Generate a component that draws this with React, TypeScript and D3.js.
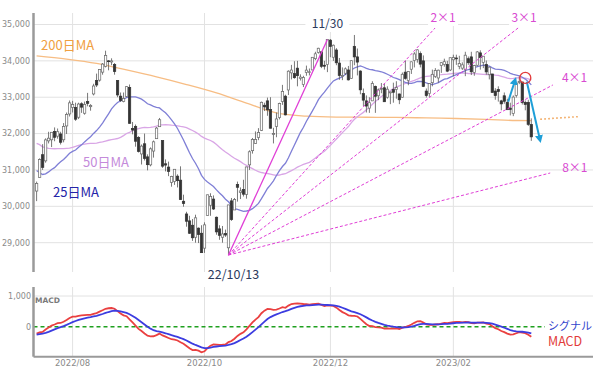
import React from 'react';
import * as d3 from 'd3';

// ---- trading days (DJIA) ----
const tradingDays: [string, number[]][] = [
  ['2022/07', [14, 15, 18, 19, 20, 21, 22, 25, 26, 27, 28, 29]],
  ['2022/08', [1, 2, 3, 4, 5, 8, 9, 10, 11, 12, 15, 16, 17, 18, 19, 22, 23, 24, 25, 26, 29, 30, 31]],
  ['2022/09', [1, 2, 6, 7, 8, 9, 12, 13, 14, 15, 16, 19, 20, 21, 22, 23, 26, 27, 28, 29, 30]],
  ['2022/10', [3, 4, 5, 6, 7, 10, 11, 12, 13, 14, 17, 18, 19, 20, 21, 24, 25, 26, 27, 28, 31]],
  ['2022/11', [1, 2, 3, 4, 7, 8, 9, 10, 11, 14, 15, 16, 17, 18, 21, 22, 23, 25, 28, 29, 30]],
  ['2022/12', [1, 2, 5, 6, 7, 8, 9, 12, 13, 14, 15, 16, 19, 20, 21, 22, 23, 27, 28, 29, 30]],
  ['2023/01', [3, 4, 5, 6, 9, 10, 11, 12, 13, 17, 18, 19, 20, 23, 24, 25, 26, 27, 30, 31]],
  ['2023/02', [1, 2, 3, 6, 7, 8, 9, 10, 13, 14, 15, 16, 17, 21, 22, 23, 24, 27, 28]],
  ['2023/03', [1, 2, 3, 6, 7, 8, 9, 10]],
];

const open = [
  30420, 30790, 31420, 31250, 31800, 31830, 32060, 31930, 31990, 31830, 32210, 32540,
  32720, 32720, 32450, 32820, 32560, 32880, 32740, 33090, 33460, 33470, 33690, 33850, 34000, 33970, 33900, 33460, 33030, 32880, 33020, 33270, 32140, 32200, 31890,
  31440, 31720, 31360, 31140, 31520, 31860, 32190, 31810, 31170, 31080, 30660, 30680, 30830, 30720, 30140, 29790, 29600, 29480, 29150, 29400, 29260,
  28850, 29750, 30030, 30200, 29700, 29380, 29150, 29250, 28860, 30150, 29900, 30600, 30380, 30460, 30330, 31140, 31530, 31730, 31890, 32090, 32780,
  32900, 32660, 32000, 32200, 32440, 32880, 33030, 33200, 33670, 33650, 33800, 33520, 33350, 33680, 33680, 33750, 34060, 34230, 34250, 33880, 33900,
  34570, 34100, 34300, 33940, 33570, 33660, 33750, 33520, 34400, 34110, 33720, 33100, 32900, 32700, 32900, 33300, 33040, 33240, 33260, 33000, 33120,
  33210, 33210, 33090, 33000, 33690, 33460, 33770, 34010, 34040, 34200, 34000, 33170, 33100, 33400, 33570, 33530, 33870, 33900, 33900, 33750,
  34030, 34080, 33850, 33800, 33760, 34060, 34110, 33680, 33880, 34220, 33960, 33900, 33620, 33640, 33170, 33210, 32900, 33040, 32860,
  32700, 32550, 33050, 33430, 33420, 32860, 32860, 32250,
];
const high = [
  30680, 31320, 31710, 31870, 32050, 32040, 32170, 32140, 32050, 32290, 32580, 32910,
  32900, 32850, 32850, 32860, 32880, 33120, 32810, 33370, 33650, 33770, 33940, 34280, 34020, 34070, 33940, 33470, 33130, 33130, 33300, 33350, 32320, 32250, 31930,
  31700, 32000, 31430, 31620, 31810, 32180, 32430, 31810, 31290, 31230, 30840, 31020, 30880, 31100, 30320, 29850, 29740, 29650, 29770, 29420, 29480,
  29560, 30320, 30360, 30300, 29720, 29480, 29460, 29360, 30040, 30230, 30230, 30680, 30520, 30730, 31090, 31540, 31880, 32060, 32150, 32880, 32850,
  32990, 33000, 32160, 32580, 32850, 33340, 33070, 33740, 33890, 33990, 34000, 33630, 33590, 33870, 33790, 34100, 34250, 34360, 34250, 34000, 34590,
  34600, 34450, 34350, 34080, 33820, 33820, 33860, 34010, 34712, 34340, 33740, 33240, 33050, 33000, 33440, 33320, 33240, 33390, 33380, 33300, 33150,
  33400, 33440, 33100, 33680, 34010, 33710, 33980, 34240, 34320, 34260, 34150, 33240, 33380, 33760, 33800, 33760, 33960, 34060, 34000, 34090,
  34170, 34170, 34140, 33960, 34250, 34120, 34250, 33890, 34270, 34290, 34130, 34010, 33840, 33640, 33250, 33300, 32930, 33130, 32960,
  32850, 33050, 33400, 33570, 33420, 32910, 32930, 32420,
];
const low = [
  30143, 30790, 31000, 31200, 31730, 31630, 31790, 31860, 31700, 31760, 31990, 32470,
  32580, 32350, 32400, 32570, 32520, 32750, 32630, 33050, 33280, 33430, 33620, 33820, 33740, 33880, 33620, 33000, 32870, 32860, 33000, 32270, 31980, 31640, 31480,
  31150, 31260, 30990, 31100, 31340, 31860, 32190, 31060, 30960, 30830, 30540, 30590, 30520, 30180, 29990, 29440, 29240, 29050, 29000, 28990, 28720,
  28720, 29750, 29740, 29900, 29220, 29080, 29000, 29160, 28660, 29600, 29900, 30130, 30200, 30270, 30210, 31000, 31450, 31720, 31820, 32070, 32620,
  32490, 32140, 31730, 31900, 32390, 32790, 32500, 33060, 33490, 33510, 33300, 33460, 33280, 33590, 33600, 33750, 34020, 34200, 33800, 33760, 33690,
  34100, 34000, 33880, 33480, 33470, 33610, 33460, 33510, 33880, 33600, 33080, 32760, 32580, 32570, 32900, 32570, 32920, 33110, 32870, 32960, 32810,
  32850, 32960, 32810, 32990, 33480, 33330, 33640, 33820, 33950, 33820, 33280, 32990, 33010, 33300, 33530, 33400, 33670, 33840, 33690, 33720,
  33580, 33890, 33770, 33750, 33580, 33890, 33610, 33590, 33850, 33760, 33800, 33620, 33490, 33130, 32930, 32880, 32640, 32820, 32650,
  32500, 32480, 32990, 33360, 32800, 32640, 32210, 31800,
];
const close = [
  30630, 31288, 31072, 31827, 31874, 32036, 31899, 32052, 31762, 32198, 32529, 32845,
  32798, 32396, 32813, 32727, 32803, 32832, 32774, 33309, 33336, 33761, 33912, 34152, 33980, 33999, 33706, 33063, 32909, 32969, 33291, 32283, 32098, 31790, 31510,
  31656, 31318, 31145, 31581, 31774, 32152, 32381, 31105, 31135, 30961, 30822, 31019, 30706, 30184, 30077, 29590, 29260, 29135, 29684, 29226, 28726,
  29490, 30317, 30274, 29927, 29297, 29203, 29240, 29211, 30039, 29635, 30186, 30524, 30424, 30334, 31083, 31500, 31837, 31839, 32034, 32861, 32733,
  32653, 32148, 32001, 32403, 32827, 33161, 32514, 33716, 33748, 33537, 33593, 33554, 33546, 33746, 33700, 34098, 34194, 34347, 33850, 33853, 34590,
  34395, 34430, 33947, 33597, 33598, 33781, 33477, 34005, 34109, 33966, 33203, 32920, 32757, 32850, 33377, 33027, 33204, 33241, 32876, 33221, 33147,
  33136, 33270, 32930, 33631, 33518, 33704, 33974, 34190, 34303, 33910, 33297, 33045, 33375, 33630, 33734, 33744, 33950, 33978, 33717, 34086,
  34093, 34054, 33926, 33891, 34156, 33949, 33699, 33869, 34246, 34089, 34128, 33697, 33827, 33130, 33045, 33154, 32817, 32889, 32657,
  32662, 33004, 33391, 33431, 32856, 32798, 32254, 31910,
];
// closes before the chart window (2022/05/03 - 2022/07/13), used for MA / MACD warm-up
const priorClose = [
  33128, 34061, 32998, 32899, 32246, 32160, 31834, 31730, 32197, 32223, 32655, 31490, 31253, 31262, 31880, 31929, 32120, 32637, 33213, 32990,
  32813, 33248, 32899, 32916, 33180, 32910, 32272, 31393, 30516, 30365, 30668, 29927, 29888, 30530, 30483, 30677, 31500, 31438, 30947, 31029, 30775,
  31097, 30968, 31037, 31385, 31338, 31174, 30982, 30772,
];
// 200-day MA: [day index, value]
const ma200Points: [number, number][] = [
  [0, 34140], [10, 34050], [20, 33930], [30, 33750], [40, 33560], [50, 33350], [60, 33120], [70, 32840],
  [80, 32570], [90, 32480], [100, 32455], [110, 32450], [120, 32445], [130, 32430], [140, 32415], [150, 32390], [160, 32360], [165, 32355],
];
const ma200Projection: [number, number][] = [[168, 32395], [180.5, 32465]];

const yTicks = [29000, 30000, 31000, 32000, 33000, 34000, 35000];
const dateTickMonths = ['2022/08', '2022/10', '2022/12', '2023/02'];

// Gann fan from 22/10/13 low
const fanPivot = { date: '2022/10/13', value: 28660 };
const fanLines: { label: string; i: number; v: number; solid: boolean; dx: number; dy: number; anchor: string }[] = [
  { label: '', i: 97, v: 34590, solid: true, dx: 0, dy: 0, anchor: 'middle' },
  { label: '2×1', i: 132.9, v: 34904, solid: false, dx: 8, dy: -10, anchor: 'middle' },
  { label: '3×1', i: 160.6, v: 34904, solid: false, dx: 6, dy: -10, anchor: 'middle' },
  { label: '4×1', i: 172.2, v: 33337, solid: false, dx: 9, dy: -7, anchor: 'start' },
  { label: '8×1', i: 171.3, v: 30917, solid: false, dx: 12, dy: -5, anchor: 'start' },
];
const upArrow: [number, number][] = [[157.3, 32877], [159.6, 33474]];
const downArrow: [number, number][] = [[163.5, 33427], [167.9, 31824]];
const circlePoint: [number, number] = [163, 33530];

const dates: string[] = [];
tradingDays.forEach(([m, ds]) => ds.forEach((d) => dates.push(`${m}/${String(d).padStart(2, '0')}`)));
const idxOf = (d: string) => dates.indexOf(d);

function sma(n: number) {
  const all = priorClose.concat(close);
  const P = priorClose.length;
  return close.map((_, i) => d3.mean(all.slice(P + i - n + 1, P + i + 1)) as number);
}
function ema(arr: number[], n: number) {
  const k = 2 / (n + 1);
  const out: number[] = [];
  arr.forEach((v, i) => out.push(i === 0 ? v : v * k + out[i - 1] * (1 - k)));
  return out;
}

export default function App() {
  const x = d3.scaleLinear().domain([0, 165]).range([36.6, 531.3]);
  const y = d3.scaleLinear().domain([29000, 35000]).range([242.7, 24.5]);
  const ym = d3.scaleLinear().domain([0, 1000]).range([326.7, 296]);

  const L = 33.5, R = 593, T = 13, B = 272, MT = 287, MB = 356.7;

  const ma25 = sma(25);
  const ma50 = sma(50);
  const all = priorClose.concat(close);
  const P = priorClose.length;
  const e12 = ema(all, 12);
  const e26 = ema(all, 26);
  const macdAll = e12.map((v, i) => v - e26[i]);
  const sigAll = ema(macdAll, 9);
  const macd = macdAll.slice(P);
  const sig = sigAll.slice(P);

  const line = d3.line<number>().x((_, i) => x(i)).y((v) => y(v));
  const mline = d3.line<number>().x((_, i) => x(i)).y((v) => ym(v));
  const pline = d3.line<[number, number]>().x((d) => x(d[0])).y((d) => y(d[1])).curve(d3.curveMonotoneX);

  const tickIdx = dateTickMonths.map((m) => dates.findIndex((d) => d.startsWith(m)));
  const pi = idxOf(fanPivot.date);
  const px = x(pi), py = y(fanPivot.value);
  const peakI = idxOf('2022/11/30');

  const jp = "'Noto Sans CJK JP', 'Noto Sans', sans-serif";
  const sans = "'DejaVu Sans', Verdana, sans-serif";
  const fanColor = '#e03ed6';
  const cyan = '#1e9fd8';

  return (
    <svg width={600} height={371} style={{ position: 'absolute', left: 0, top: 0, background: '#fff' }}>
      <defs>
        <marker id="ah" viewBox="0 0 10 10" refX="6" refY="5" markerWidth="4" markerHeight="4" orient="auto">
          <path d="M0,0 L10,5 L0,10 z" fill={cyan} />
        </marker>
      </defs>
      {/* grid main */}
      {yTicks.map((t) => (
        <line key={t} x1={L} x2={R} y1={y(t)} y2={y(t)} stroke="#e2e2e2" strokeWidth={1} />
      ))}
      {tickIdx.map((ti) => (
        <line key={ti} x1={x(ti)} x2={x(ti)} y1={T} y2={B} stroke="#e2e2e2" strokeWidth={1} />
      ))}
      {/* grid macd */}
      <line x1={L} x2={R} y1={ym(1000)} y2={ym(1000)} stroke="#e2e2e2" />
      {tickIdx.map((ti) => (
        <line key={'m' + ti} x1={x(ti)} x2={x(ti)} y1={MT} y2={MB} stroke="#e2e2e2" strokeWidth={1} />
      ))}

      {/* y tick labels */}
      {yTicks.map((t) => (
        <text key={'l' + t} x={30} y={y(t)} dy="0.35em" textAnchor="end" fontSize={8} fill="#8a8a8a" fontFamily={sans}>
          {d3.format(',')(t)}
        </text>
      ))}

      {/* moving averages */}
      <path d={pline(ma200Points) || ''} fill="none" stroke="#f7bd84" strokeWidth={1.3} />
      <path d={pline([ma200Points[ma200Points.length - 1], ...ma200Projection].slice(1)) || ''} fill="none" stroke="#f0a050" strokeWidth={1.6} strokeDasharray="1.5,2.5" />
      <path d={line(ma50) || ''} fill="none" stroke="#d9a6e6" strokeWidth={1.3} />
      <path d={line(ma25) || ''} fill="none" stroke="#7f7fd6" strokeWidth={1.3} />

      {/* candles */}
      {close.map((c, i) => {
        const o = open[i];
        const up = c >= o;
        const top = y(Math.max(o, c));
        const h = Math.max(0.8, Math.abs(y(o) - y(c)));
        return (
          <g key={i}>
            <line x1={x(i)} x2={x(i)} y1={y(high[i])} y2={y(low[i])} stroke="#555" strokeWidth={0.8} />
            <rect x={x(i) - 1.2} y={top} width={2.4} height={h} fill={up ? '#fff' : '#333'} stroke={up ? '#666' : '#333'} strokeWidth={0.7} />
          </g>
        );
      })}

      {/* fan lines */}
      {fanLines.map((f, k) => (
        <line key={'f' + k} x1={px} y1={py} x2={x(f.i)} y2={y(f.v)} stroke={fanColor} strokeWidth={f.solid ? 1.3 : 1} strokeDasharray={f.solid ? undefined : '3,2'} />
      ))}
      {fanLines.filter((f) => f.label).map((f, k) => (
        <g key={'fl' + k}>
          {f.anchor === 'middle' && (
            <rect x={x(f.i) + f.dx - 15} y={y(f.v) + f.dy - 8} width={30} height={16} fill="#fff" />
          )}
          <text x={x(f.i) + f.dx} y={y(f.v) + f.dy} dy="0.35em" textAnchor={f.anchor} fontSize={12} fill="#d94ad2" fontFamily={jp}>
            {f.label}
          </text>
        </g>
      ))}

      {/* axis main */}
      <line x1={L} x2={L} y1={T} y2={B} stroke="#9a9a9a" strokeWidth={2.5} />

      {/* MA labels */}
      <text x={41} y={45} dy="0.35em" fontSize={13} fill="#f0a040" fontFamily={jp}>200日MA</text>
      <text x={83} y={162.5} dy="0.35em" fontSize={13} fill="#c48ada" fontFamily={jp}>50日MA</text>
      <text x={53} y={192.5} dy="0.35em" fontSize={13} fill="#2424a8" fontFamily={jp}>25日MA</text>

      {/* date annotations */}
      <rect x={x(peakI) - 22} y={15} width={44} height={17} fill="#fff" />
      <text x={x(peakI)} y={23.5} dy="0.35em" textAnchor="middle" fontSize={12} fill="#2c3a5c" fontFamily={jp}>11/30</text>
      <text x={px + 5} y={275} dy="0.35em" textAnchor="middle" fontSize={12.5} fill="#2c3a5c" fontFamily={jp}>22/10/13</text>

      {/* arrows & circle */}
      <line x1={x(upArrow[0][0])} y1={y(upArrow[0][1])} x2={x(upArrow[1][0])} y2={y(upArrow[1][1])} stroke={cyan} strokeWidth={2} markerEnd="url(#ah)" />
      <line x1={x(downArrow[0][0])} y1={y(downArrow[0][1])} x2={x(downArrow[1][0])} y2={y(downArrow[1][1])} stroke={cyan} strokeWidth={2} markerEnd="url(#ah)" />
      <circle cx={x(circlePoint[0])} cy={y(circlePoint[1])} r={5.5} fill="none" stroke="#e23b3b" strokeWidth={1.3} />

      {/* MACD panel */}
      <line x1={L} x2={545} y1={ym(0)} y2={ym(0)} stroke="#1fa01f" strokeWidth={1.5} strokeDasharray="4,3" />
      <path d={mline(macd) || ''} fill="none" stroke="#ea4040" strokeWidth={1.8} />
      <path d={mline(sig) || ''} fill="none" stroke="#3c3ce0" strokeWidth={1.8} />
      <line x1={L} x2={L} y1={MT} y2={MB} stroke="#9a9a9a" strokeWidth={2.5} />
      <line x1={L} x2={R} y1={MB} y2={MB} stroke="#9a9a9a" strokeWidth={2} />
      <text x={31} y={ym(1000)} dy="0.35em" textAnchor="end" fontSize={8} fill="#8a8a8a" fontFamily={sans}>1,000</text>
      <text x={31} y={ym(0)} dy="0.35em" textAnchor="end" fontSize={8} fill="#8a8a8a" fontFamily={sans}>0</text>
      <text x={35} y={300} dy="0.35em" fontSize={7.5} fontWeight="bold" fill="#7a7a7a" fontFamily={sans}>MACD</text>
      <text x={548} y={326} dy="0.35em" fontSize={11} fill="#3344cc" fontFamily={jp}>シグナル</text>
      <text x={548} y={342} dy="0.35em" fontSize={12.5} fill="#e23b3b" fontFamily={jp}>MACD</text>

      {/* date labels */}
      {tickIdx.map((ti, k) => (
        <text key={'d' + ti} x={x(ti)} y={363} dy="0.35em" textAnchor="middle" fontSize={8.5} fill="#8a8a8a" fontFamily={sans}>
          {dateTickMonths[k]}
        </text>
      ))}
    </svg>
  );
}
